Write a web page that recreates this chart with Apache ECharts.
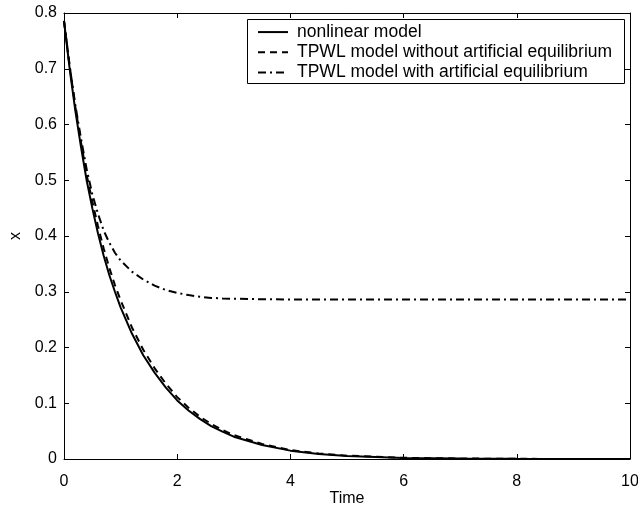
<!DOCTYPE html>
<html>

<head>
  <title>x vs Time</title>
  <script src="https://cdn.jsdelivr.net/npm/echarts@6/dist/echarts.min.js"></script>
</head>

<body style="margin:0;">
  <div id="chart" style="width: 638px;height:506px;"></div>
  <script>
    // values
    let timeValues = [0, 0.1, 0.2, 0.3, 0.4, 0.5, 0.6, 0.7, 0.8, 0.9, 1.0, 1.2, 1.4, 1.6, 1.8, 2.0, 2.2, 2.4, 2.6, 2.8, 3.0, 3.5, 4, 4.5, 5, 6, 7, 8, 9, 10];
    let nonlinearValues = [0.786, 0.700, 0.625, 0.560, 0.500, 0.450, 0.405, 0.365, 0.330, 0.300, 0.272, 0.225, 0.186, 0.155, 0.128, 0.105, 0.087, 0.072, 0.059, 0.049, 0.040, 0.025, 0.015, 0.009, 0.0055, 0.002, 0.0008, 0.0003, 0.0001, 0.00004];
    let tpwlNoEqValues = [0.786, 0.705, 0.632, 0.568, 0.510, 0.462, 0.418, 0.378, 0.343, 0.312, 0.285, 0.236, 0.196, 0.163, 0.135, 0.111, 0.092, 0.076, 0.063, 0.052, 0.043, 0.027, 0.016, 0.010, 0.006, 0.0022, 0.0009, 0.0003, 0.0001, 0.00004];
    let tpwlEqValues = [0.786, 0.705, 0.635, 0.575, 0.520, 0.475, 0.440, 0.410, 0.388, 0.370, 0.356, 0.336, 0.322, 0.311, 0.303, 0.298, 0.294, 0.291, 0.289, 0.288, 0.2875, 0.2866, 0.2862, 0.286, 0.286, 0.286, 0.286, 0.286, 0.286, 0.286];
    let seriesNames = ['nonlinear model', 'TPWL model without artificial equilibrium', 'TPWL model with artificial equilibrium'];

    function pairs(ys) {
      let out = [];
      for (let i in timeValues)
        out.push([timeValues[i], ys[i]]);
      return out;
    }

    let font = 'Liberation Sans, Arial, Helvetica, sans-serif';
    let boxAxis = {
      axisLine: { show: true, onZero: false, lineStyle: { color: '#000', width: 1 } },
      axisTick: { show: true, inside: true, length: 5, lineStyle: { color: '#000' } },
      splitLine: { show: false }
    };

    let myChart = echarts.init(document.getElementById('chart'));
    let option = {
      animation: false,
      backgroundColor: '#fff',
      textStyle: { fontFamily: font },
      grid: { left: 64, right: 8, top: 13, bottom: 47, containLabel: false, outerBoundsMode: 'none' },
      // legend frame drawn separately, the legend items sit on top of it
      graphic: [{
        type: 'rect', left: 247, top: 19, z: 90,
        shape: { width: 377, height: 64 },
        style: { fill: '#fff', stroke: '#000', lineWidth: 1 }
      }],
      legend: {
        orient: 'vertical',
        left: 247,
        top: 13,
        z: 100,
        padding: [4, 11, 4, 10],
        itemGap: -10,
        itemWidth: 30,
        itemHeight: 14,
        itemStyle: { color: 'rgba(0,0,0,0)', borderWidth: 0, opacity: 0 },
        textStyle: { fontFamily: font, fontSize: 17.5, lineHeight: 17, color: '#000', padding: [0, 0, 0, 4] },
        data: seriesNames
      },
      xAxis: [
        Object.assign({
          type: 'value', min: 0, max: 10, interval: 2, position: 'bottom',
          name: 'Time', nameLocation: 'middle', nameGap: 26, nameMoveOverlap: false,
          nameTextStyle: { fontFamily: font, fontSize: 16, color: '#000' },
          axisLabel: { fontFamily: font, fontSize: 16, color: '#000', margin: 9 }
        }, boxAxis),
        Object.assign({
          type: 'value', min: 0, max: 10, interval: 2, position: 'top',
          axisLabel: { show: false }
        }, boxAxis)
      ],
      yAxis: [
        Object.assign({
          type: 'value', min: 0, max: 0.8, interval: 0.1, position: 'left',
          name: 'x', nameLocation: 'middle', nameGap: 35, nameRotate: 90, nameMoveOverlap: false,
          nameTextStyle: { fontFamily: font, fontSize: 16, color: '#000' },
          axisLabel: { fontFamily: font, fontSize: 16, color: '#000', margin: 7 }
        }, boxAxis),
        Object.assign({
          type: 'value', min: 0, max: 0.8, interval: 0.1, position: 'right',
          axisLabel: { show: false }
        }, boxAxis)
      ],
      series: [
        {
          name: seriesNames[0], type: 'line', symbol: 'none',
          lineStyle: { color: '#000', width: 2, type: 'solid' },
          itemStyle: { color: '#000' },
          data: pairs(nonlinearValues)
        },
        {
          name: seriesNames[1], type: 'line', symbol: 'none',
          lineStyle: { color: '#000', width: 2, type: [7, 5] },
          itemStyle: { color: '#000' },
          data: pairs(tpwlNoEqValues)
        },
        {
          name: seriesNames[2], type: 'line', symbol: 'none',
          lineStyle: { color: '#000', width: 2, type: [8, 4, 2, 4] },
          itemStyle: { color: '#000' },
          data: pairs(tpwlEqValues)
        }
      ]
    };
    myChart.setOption(option);
  </script>

</body>

</html>
